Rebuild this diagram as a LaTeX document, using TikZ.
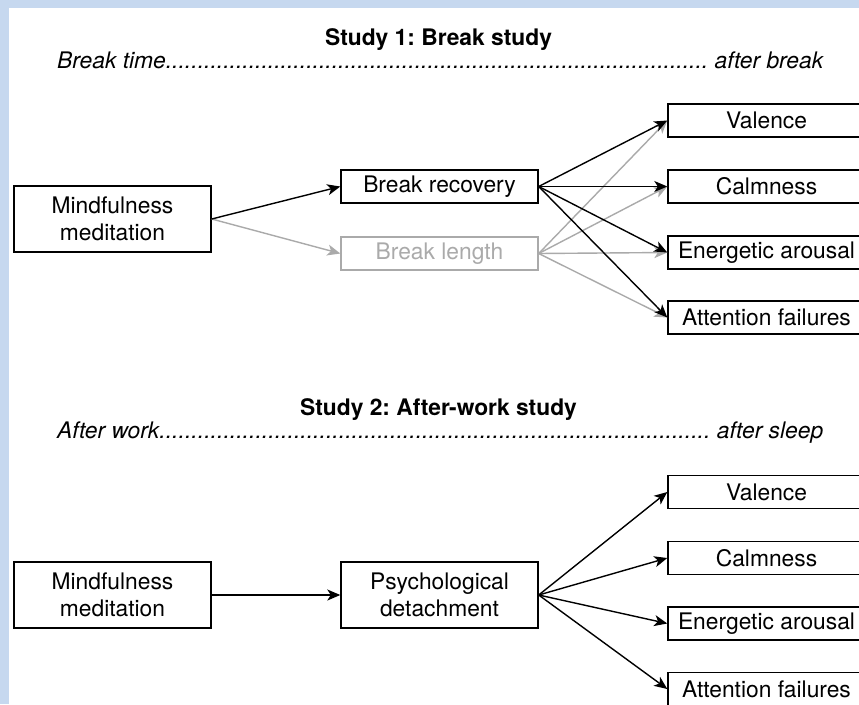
\documentclass[tikz,border=0pt]{standalone}
\usepackage{fontspec}
\setmainfont{TeX Gyre Heros}
\usetikzlibrary{arrows.meta}
\frenchspacing
\definecolor{frameblue}{RGB}{198,216,239}
\definecolor{lightgr}{RGB}{170,170,170}
\tikzset{
  box/.style={draw, line width=1.4pt, minimum width=197pt, minimum height=33pt,
    inner sep=0pt, align=center, font=\fontsize{22.8}{27.5}\selectfont},
  tall/.style={minimum height=66pt},
  faded/.style={draw=lightgr, text=lightgr},
  conn/.style={line width=1.4pt, -{Stealth[length=13pt,width=11pt,inset=3.5pt]}},
  fadedconn/.style={conn, draw=lightgr, color=lightgr},
  title/.style={anchor=base, inner sep=0pt, font=\fontsize{22.8}{27.5}\selectfont\bfseries},
  timeline/.style={anchor=base west, inner sep=0pt, font=\fontsize{22.8}{27.5}\selectfont\itshape}
}
\begin{document}
\begin{tikzpicture}[x=1pt,y=-1pt]
\fill[frameblue] (0,0) rectangle (859,704);
\fill[white] (9,8) rectangle (859,704);
\useasboundingbox (0,0) rectangle (859,704);
\clip (0,0) rectangle (859,704);

% Study 1
\node[title] (t1) at (438.5,45) {Study 1: Break study};
\node[timeline] (l1) at (57,68) {\hbox to 766pt{Break time\xleaders\hbox{.}\hfill\ after break}};

\node[box,tall] (m1) at (112.5,219) {Mindfulness\\meditation};
\node[box] (br) at (439.5,186.5) {Break recovery};
\node[box,faded] (bl) at (439.5,253.5) {Break length};
\node[box] (v1) at (766.5,120.5) {Valence};
\node[box] (c1) at (766.5,186.5) {Calmness};
\node[box] (e1) at (766.5,252.5) {Energetic arousal};
\node[box] (a1) at (766.5,317.5) {Attention failures};

\draw[fadedconn] (m1.east) -- (bl.west);
\foreach \t in {v1,c1,e1,a1} \draw[fadedconn] (bl.east) -- (\t.west);
\draw[conn] (m1.east) -- (br.west);
\foreach \t in {v1,c1,e1,a1} \draw[conn] (br.east) -- (\t.west);

% Study 2
\node[title] (t2) at (438.5,415) {Study 2: After-work study};
\node[timeline] (l2) at (57,438) {\hbox to 766pt{After work\xleaders\hbox{.}\hfill\ after sleep}};

\node[box,tall] (m2) at (112.5,595) {Mindfulness\\meditation};
\node[box,tall] (pd) at (439.5,595) {Psychological\\detachment};
\node[box] (v2) at (766.5,492) {Valence};
\node[box] (c2) at (766.5,558) {Calmness};
\node[box] (e2) at (766.5,623.5) {Energetic arousal};
\node[box] (a2) at (766.5,689) {Attention failures};

\draw[conn] (m2.east) -- (pd.west);
\foreach \t in {v2,c2,e2,a2} \draw[conn] (pd.east) -- (\t.west);
\end{tikzpicture}
\end{document}
